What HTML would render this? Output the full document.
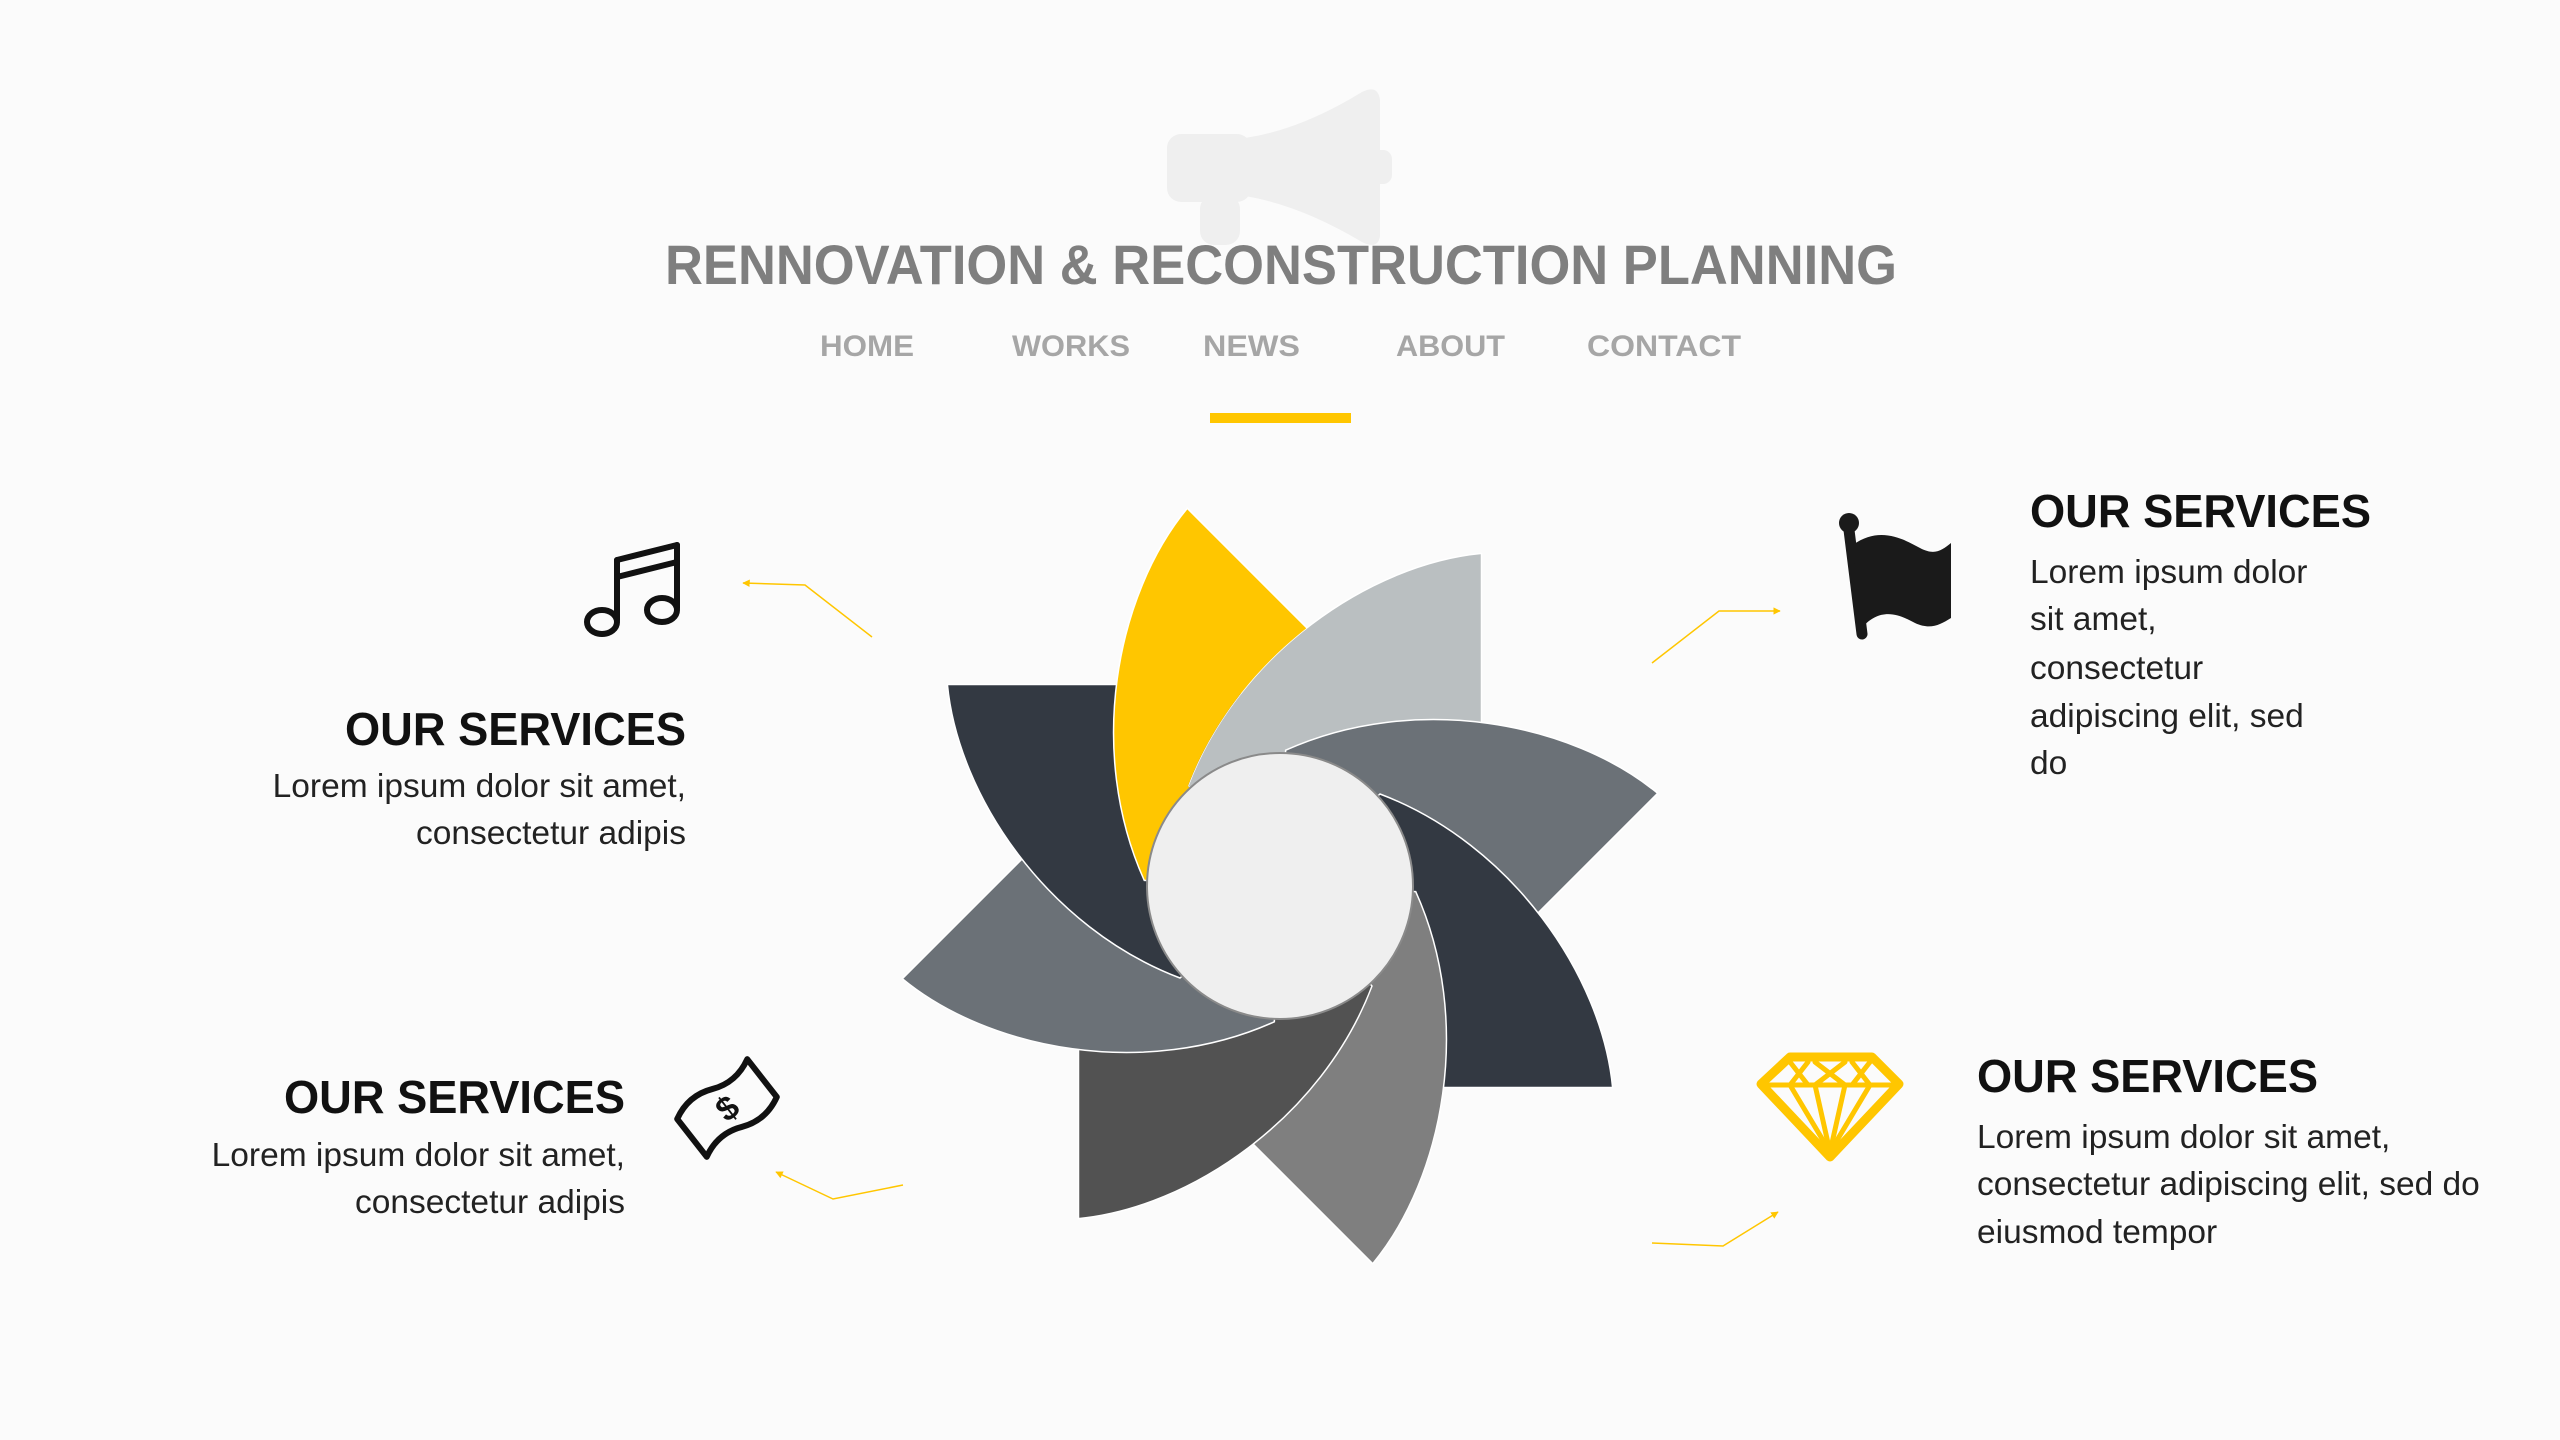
<!DOCTYPE html>
<html><head><meta charset="utf-8"><style>
html,body{margin:0;padding:0;background:#fbfbfb;}
svg{display:block;}
text{font-family:"Liberation Sans",sans-serif;}
</style></head><body>
<svg width="2560" height="1440" viewBox="0 0 2560 1440" xmlns="http://www.w3.org/2000/svg">
<defs>
<path id="petal" d="M0 0 L-92 -100 C-42 -232 90 -322 201.5 -332.6 L201.5 -40 Z"/>
<marker id="arr" viewBox="0 0 10 10" refX="9" refY="5" markerWidth="5" markerHeight="5" orient="auto">
<path d="M0 0 L10 5 L0 10 Z" fill="#FFC600"/></marker>
<mask id="ym" maskUnits="userSpaceOnUse" x="-600" y="-600" width="1200" height="1200">
<rect x="-600" y="-600" width="1200" height="1200" fill="#fff"/>
<use href="#petal" transform="rotate(45)" fill="#000"/>
</mask>
<mask id="dm" maskUnits="userSpaceOnUse" x="-600" y="-600" width="1200" height="1200">
<rect x="-600" y="-600" width="1200" height="1200" fill="#fff"/>
<use href="#petal" transform="rotate(90)" fill="#000"/>
</mask>
</defs>
<rect width="2560" height="1440" fill="#fbfbfb"/>

<!-- megaphone -->
<g fill="#efefef">
<rect x="1167" y="134" width="84" height="68" rx="14"/>
<path d="M1245 138 Q1300 130 1362 92 Q1378 84 1380 100 L1380 236 Q1378 250 1362 242 Q1300 205 1245 196 Z"/>
<rect x="1372" y="150" width="20" height="34" rx="9"/>
<rect x="1200" y="195" width="40" height="50" rx="14"/>
</g>

<text x="665" y="284" font-size="56" font-weight="bold" fill="#7f7f7f" textLength="1232" lengthAdjust="spacingAndGlyphs">RENNOVATION &amp; RECONSTRUCTION PLANNING</text>

<g font-size="30" font-weight="bold" fill="#a6a6a6">
<text x="820" y="356" textLength="94" lengthAdjust="spacingAndGlyphs">HOME</text>
<text x="1012" y="356" textLength="118" lengthAdjust="spacingAndGlyphs">WORKS</text>
<text x="1203" y="356" textLength="97" lengthAdjust="spacingAndGlyphs">NEWS</text>
<text x="1396" y="356" textLength="109" lengthAdjust="spacingAndGlyphs">ABOUT</text>
<text x="1587" y="356" textLength="154" lengthAdjust="spacingAndGlyphs">CONTACT</text>
</g>
<rect x="1210" y="413" width="141" height="10" fill="#FFC600"/>

<!-- pinwheel -->
<g transform="translate(1280 886)" stroke="#ffffff" stroke-width="1.5">
<use href="#petal" transform="rotate(-45)" fill="#FFC600"/>
<use href="#petal" transform="rotate(0)" fill="#BABFC1"/>
<use href="#petal" transform="rotate(45)" fill="#6B7177"/>
<use href="#petal" transform="rotate(90)" fill="#333942"/>
<use href="#petal" transform="rotate(135)" fill="#7F7F7F"/>
<use href="#petal" transform="rotate(180)" fill="#525252"/>
<use href="#petal" transform="rotate(225)" fill="#6B7177"/>
<g transform="rotate(270)"><use href="#petal" fill="#333942" mask="url(#dm)"/></g>
<g transform="rotate(-45)"><use href="#petal" fill="#FFC600" mask="url(#ym)"/></g>
<circle cx="0" cy="0" r="133" fill="#EFEFEF" stroke="#8a8a8a" stroke-width="2"/>
</g>

<!-- connectors -->
<g fill="none" stroke="#FFC600" stroke-width="1.5">
<polyline points="872,637 805,585 743,583" marker-end="url(#arr)"/>
<polyline points="1652,663 1719,611 1780,611" marker-end="url(#arr)"/>
<polyline points="903,1185 833,1199 776,1172" marker-end="url(#arr)"/>
<polyline points="1652,1243 1723,1246 1778,1212" marker-end="url(#arr)"/>
</g>

<!-- music icon -->
<g fill="none" stroke="#111" stroke-width="6" stroke-linecap="round">
<ellipse cx="602" cy="622" rx="15" ry="12"/>
<ellipse cx="662" cy="610" rx="15" ry="12"/>
<line x1="617" y1="620" x2="617" y2="560"/>
<line x1="677" y1="608" x2="677" y2="545"/>
<line x1="617" y1="560" x2="677" y2="545"/>
<line x1="617" y1="577" x2="677" y2="562"/>
</g>

<!-- flag icon -->
<g fill="#1a1a1a">
<line x1="1848" y1="522" x2="1862" y2="634" stroke="#1a1a1a" stroke-width="11" stroke-linecap="round"/>
<circle cx="1849" cy="523" r="10"/>
<path d="M1853 545 C1880 525 1905 540 1920 548 C1935 556 1942 550 1951 543 L1951 618 C1940 625 1930 630 1915 623 C1900 615 1880 605 1860 630 Z"/>
</g>

<!-- money icon -->
<g transform="translate(727 1108) rotate(-38)">
<path d="M-46 -22 Q-23 -34 0 -24 Q23 -14 46 -26 L46 22 Q23 34 0 24 Q-23 14 -46 26 Z" fill="none" stroke="#111" stroke-width="6" stroke-linejoin="round"/>
<text x="0" y="12" font-size="34" font-weight="bold" text-anchor="middle" fill="#111">$</text>
</g>

<!-- diamond icon -->
<g fill="none" stroke="#FFC600" stroke-linejoin="round" stroke-linecap="round">
<path d="M1790 1057 L1872 1057 L1899 1084 L1830 1157 L1761 1084 Z" stroke-width="9"/>
<g stroke-width="5">
<line x1="1763" y1="1085" x2="1897" y2="1085"/>
<line x1="1790" y1="1062" x2="1808" y2="1085"/>
<line x1="1808" y1="1062" x2="1790" y2="1085"/>
<line x1="1815" y1="1062" x2="1845" y2="1085"/>
<line x1="1845" y1="1062" x2="1815" y2="1085"/>
<line x1="1852" y1="1062" x2="1870" y2="1085"/>
<line x1="1870" y1="1062" x2="1852" y2="1085"/>
<line x1="1790" y1="1085" x2="1830" y2="1152"/>
<line x1="1815" y1="1085" x2="1830" y2="1152"/>
<line x1="1845" y1="1085" x2="1830" y2="1152"/>
<line x1="1870" y1="1085" x2="1830" y2="1152"/>
</g>
</g>

<!-- texts -->
<g fill="#111" font-weight="bold" font-size="46">
<text x="686" y="745" text-anchor="end" textLength="341" lengthAdjust="spacingAndGlyphs">OUR SERVICES</text>
<text x="625" y="1113" text-anchor="end" textLength="341" lengthAdjust="spacingAndGlyphs">OUR SERVICES</text>
<text x="2030" y="527" textLength="341" lengthAdjust="spacingAndGlyphs">OUR SERVICES</text>
<text x="1977" y="1092" textLength="341" lengthAdjust="spacingAndGlyphs">OUR SERVICES</text>
</g>
<g fill="#222" font-size="33.5">
<text x="686" y="797" text-anchor="end">Lorem ipsum dolor sit amet,</text>
<text x="686" y="844" text-anchor="end">consectetur adipis</text>
<text x="625" y="1166" text-anchor="end">Lorem ipsum dolor sit amet,</text>
<text x="625" y="1213" text-anchor="end">consectetur adipis</text>
<text x="2030" y="583">Lorem ipsum dolor</text>
<text x="2030" y="630">sit amet,</text>
<text x="2030" y="679">consectetur</text>
<text x="2030" y="727">adipiscing elit, sed</text>
<text x="2030" y="774">do</text>
<text x="1977" y="1148">Lorem ipsum dolor sit amet,</text>
<text x="1977" y="1195">consectetur adipiscing elit, sed do</text>
<text x="1977" y="1243">eiusmod tempor</text>
</g>
</svg>
</body></html>
